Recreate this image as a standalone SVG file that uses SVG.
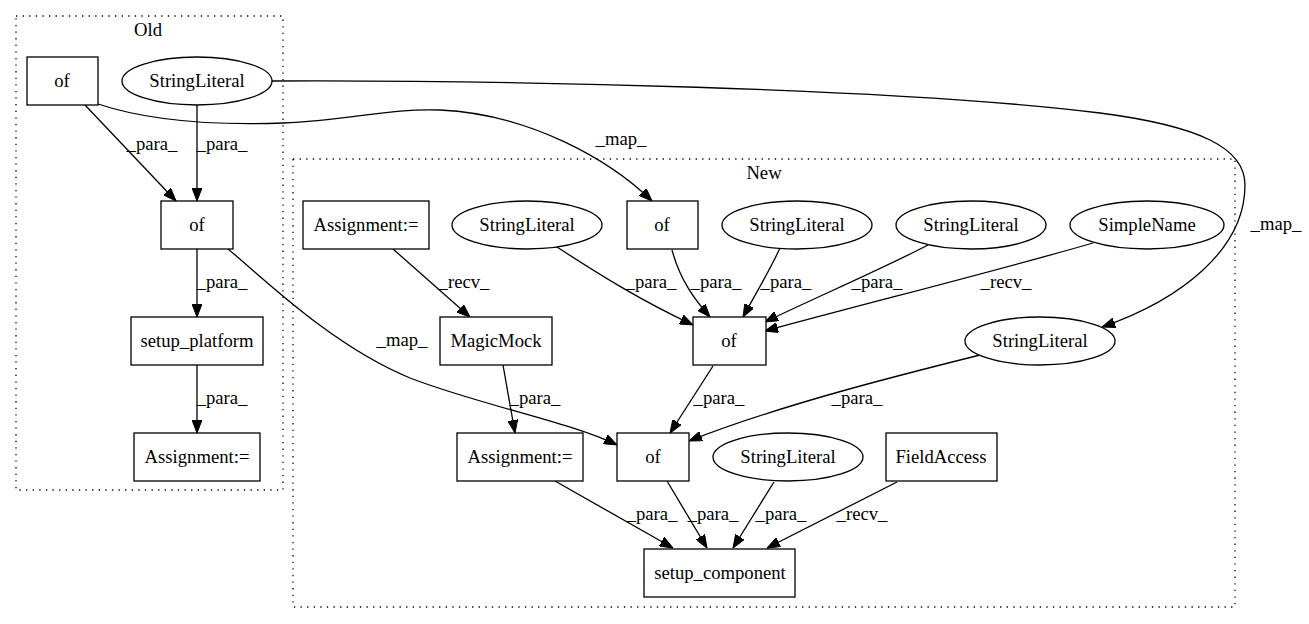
<svg xmlns="http://www.w3.org/2000/svg" width="1309" height="624" viewBox="0 0 1309 624" font-family="'Liberation Serif', 'Times New Roman', Times, serif">
<style>
text{font-family:'Liberation Serif','Times New Roman',Times,serif;font-size:18.67px;fill:#000;text-anchor:middle}
.n rect,.n ellipse{fill:#fff;stroke:#000;stroke-width:1.3}
.cl{fill:none;stroke:#000;stroke-width:1.3;stroke-dasharray:1.3,5.3}
#edges path{fill:none;stroke:#000;stroke-width:1.3}
</style>
<defs>
<marker id="a" viewBox="0 0 13 10" refX="13" refY="5" markerWidth="13" markerHeight="10" markerUnits="userSpaceOnUse" orient="auto">
<path d="M0,0 L13,5 L0,10 z" fill="#000" stroke="#000" stroke-width="1"/>
</marker>
</defs>
<rect width="1309" height="624" fill="#fff"/>
<g id="cluster_old"><rect class="cl" x="16" y="16" width="267" height="474"/><text x="148" y="36">Old</text></g>
<g id="cluster_new"><rect class="cl" x="293" y="159" width="942" height="448"/><text x="764" y="179">New</text></g>

<g id="edges">
<path d="M85,105 L176,201" marker-end="url(#a)"/>
<path d="M197,105 L197,201" marker-end="url(#a)"/>
<path d="M197,249 L197,317" marker-end="url(#a)"/>
<path d="M197,365 L197,433" marker-end="url(#a)"/>
<path d="M98,104 C140,118 200,126 283,123 C350,120 390,108 440,110 C530,114 610,160 652,201" marker-end="url(#a)"/>
<path d="M272,81 C500,80 900,88 1100,113 C1200,126 1245,148 1245,185 C1245,250 1180,300 1102,327" marker-end="url(#a)"/>
<path d="M228,249 C260,275 330,345 410,378 C480,405 570,422 617,445" marker-end="url(#a)"/>
<path d="M393,249 L470,317" marker-end="url(#a)"/>
<path d="M557,247 C600,275 640,300 693,325" marker-end="url(#a)"/>
<path d="M672,250 C680,280 695,300 710,317" marker-end="url(#a)"/>
<path d="M780,248 C770,270 755,295 743,317" marker-end="url(#a)"/>
<path d="M928,245 C880,270 810,300 765,322" marker-end="url(#a)"/>
<path d="M1093,243 C1000,270 860,305 765,331" marker-end="url(#a)"/>
<path d="M503,365 L515,433" marker-end="url(#a)"/>
<path d="M713,366 L670,433" marker-end="url(#a)"/>
<path d="M980,355 C900,375 780,405 689,441" marker-end="url(#a)"/>
<path d="M555,481 L673,548" marker-end="url(#a)"/>
<path d="M667,481 L707,548" marker-end="url(#a)"/>
<path d="M774,482 L733,548" marker-end="url(#a)"/>
<path d="M897,482 L767,548" marker-end="url(#a)"/>
<text x="152" y="150">_para_</text>
<text x="222" y="150">_para_</text>
<text x="222" y="288">_para_</text>
<text x="222" y="404">_para_</text>
<text x="621" y="145">_map_</text>
<text x="1276" y="230">_map_</text>
<text x="402" y="346">_map_</text>
<text x="464" y="288">_recv_</text>
<text x="651" y="288">_para_</text>
<text x="716" y="288">_para_</text>
<text x="786" y="288">_para_</text>
<text x="877" y="288">_para_</text>
<text x="1006" y="288">_recv_</text>
<text x="535" y="404">_para_</text>
<text x="719" y="404">_para_</text>
<text x="857" y="404">_para_</text>
<text x="652" y="520">_para_</text>
<text x="713" y="520">_para_</text>
<text x="781" y="520">_para_</text>
<text x="862" y="520">_recv_</text>
</g>

<g id="old_of1" class="n"><rect x="27" y="57" width="71" height="48"/><text x="62" y="87">of</text></g>
<g id="old_sl" class="n"><ellipse cx="197" cy="81" rx="75" ry="24"/><text x="197" y="87">StringLiteral</text></g>
<g id="old_of2" class="n"><rect x="161" y="201" width="72" height="48"/><text x="197" y="231">of</text></g>
<g id="old_setup_platform" class="n"><rect x="131" y="317" width="132" height="48"/><text x="197" y="347">setup_platform</text></g>
<g id="old_assign" class="n"><rect x="134" y="433" width="126" height="48"/><text x="197" y="463">Assignment:=</text></g>

<g id="new_assign1" class="n"><rect x="303" y="201" width="126" height="48"/><text x="366" y="231">Assignment:=</text></g>
<g id="new_sl1" class="n"><ellipse cx="527" cy="225" rx="75" ry="24"/><text x="527" y="231">StringLiteral</text></g>
<g id="new_of1" class="n"><rect x="627" y="201" width="71" height="48"/><text x="662" y="231">of</text></g>
<g id="new_sl2" class="n"><ellipse cx="797" cy="225" rx="75" ry="24"/><text x="797" y="231">StringLiteral</text></g>
<g id="new_sl3" class="n"><ellipse cx="971" cy="225" rx="75" ry="24"/><text x="971" y="231">StringLiteral</text></g>
<g id="new_simplename" class="n"><ellipse cx="1147" cy="225" rx="77" ry="24"/><text x="1147" y="231">SimpleName</text></g>
<g id="new_magicmock" class="n"><rect x="440" y="317" width="112" height="48"/><text x="496" y="347">MagicMock</text></g>
<g id="new_of2" class="n"><rect x="693" y="317" width="73" height="48"/><text x="729" y="347">of</text></g>
<g id="new_sl4" class="n"><ellipse cx="1040" cy="341" rx="75" ry="24"/><text x="1040" y="347">StringLiteral</text></g>
<g id="new_assign2" class="n"><rect x="457" y="433" width="126" height="48"/><text x="520" y="463">Assignment:=</text></g>
<g id="new_of3" class="n"><rect x="617" y="433" width="72" height="48"/><text x="653" y="463">of</text></g>
<g id="new_sl5" class="n"><ellipse cx="788" cy="457" rx="75" ry="24"/><text x="788" y="463">StringLiteral</text></g>
<g id="new_fieldaccess" class="n"><rect x="886" y="433" width="111" height="48"/><text x="941" y="463">FieldAccess</text></g>
<g id="new_setup_component" class="n"><rect x="644" y="549" width="151" height="48"/><text x="720" y="579">setup_component</text></g>
</svg>
